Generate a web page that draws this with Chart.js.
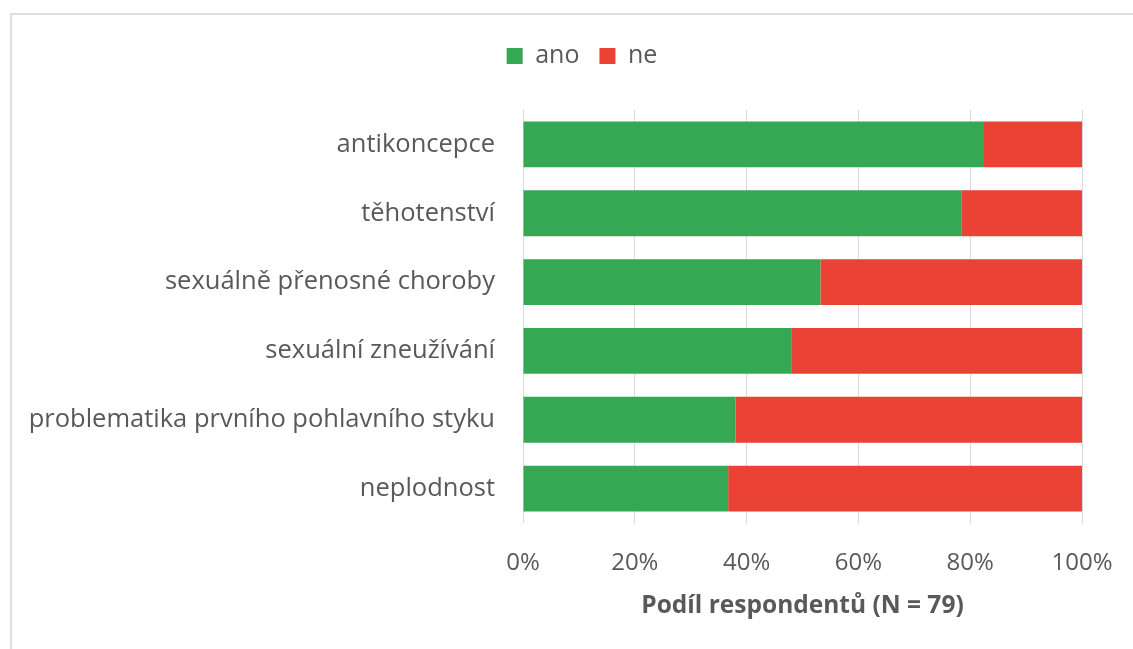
<!DOCTYPE html>
<html>
<head>
<meta charset="utf-8">
<script src="https://cdn.jsdelivr.net/npm/chart.js@4/dist/chart.umd.min.js"></script>
<style>
  html, body { margin: 0; padding: 0; background: #ffffff; }
  #frame { position: absolute; left: 10px; top: 13px; width: 1200px; height: 700px;
           border-left: 2px solid #dedede; border-top: 2px solid #dedede; }
  #wrap { position: absolute; left: 0; top: 0; width: 1133px; height: 649px; }
</style>
</head>
<body>
<div id="frame"></div>
<div id="wrap"><canvas id="c" width="1133" height="649"></canvas></div>
<script>
const categories = [
  'antikoncepce',
  'těhotenství',
  'sexuálně přenosné choroby',
  'sexuální zneužívání',
  'problematika prvního pohlavního styku',
  'neplodnost'
];
const anoValues = [82.3, 78.5, 53.2, 48.1, 38.0, 36.7];
const neValues  = [17.7, 21.5, 46.8, 51.9, 62.0, 63.3];
const xTicks = [0, 20, 40, 60, 80, 100];
const axisTitle = 'Podíl respondentů (N = 79)';

const FONT = '"Open Sans", Lato, sans-serif';
const TEXT = '#595959';

// shift the legend horizontally so it is centred over the plot like the reference
const legendShift = {
  id: 'legendShift',
  afterLayout(chart) {
    const l = chart.legend;
    if (l) { l.left += 15.5; l.right += 15.5; }
  }
};

new Chart(document.getElementById('c'), {
  type: 'bar',
  data: {
    labels: categories,
    datasets: [
      { label: 'ano', data: anoValues, backgroundColor: '#34a853', borderWidth: 0,
        barPercentage: 0.667, categoryPercentage: 1.0 },
      { label: 'ne', data: neValues, backgroundColor: '#ea4335', borderWidth: 0,
        barPercentage: 0.667, categoryPercentage: 1.0 }
    ]
  },
  plugins: [legendShift],
  options: {
    indexAxis: 'y',
    responsive: false,
    animation: false,
    layout: { padding: { left: 0, right: 0, top: 23.5, bottom: 31 } },
    plugins: {
      legend: {
        position: 'top',
        labels: {
          color: TEXT, font: { family: FONT, size: 25 },
          boxWidth: 16, boxHeight: 16, padding: 20
        }
      },
      subtitle: {
        display: true, text: ' ', position: 'top', weight: 500,
        font: { size: 10, lineHeight: 1 }, padding: 10.75
      },
      tooltip: { enabled: false }
    },
    scales: {
      x: {
        stacked: true, min: 0, max: 100,
        afterBuildTicks: (s) => { s.ticks = xTicks.map(v => ({ value: v })); },
        afterFit: (s) => { s.height = 95; s.paddingRight = 51; },
        ticks: { color: TEXT, font: { family: FONT, size: 24 }, padding: 26,
                 maxRotation: 0, callback: (v) => v + '%' },
        grid: { color: '#d9d9d9', lineWidth: 1, drawTicks: false },
        border: { display: false },
        title: { display: true, text: axisTitle, color: TEXT,
                 font: { family: FONT, size: 24.5, weight: 'bold', lineHeight: 1 },
                 padding: { top: 0, bottom: 0 } }
      },
      y: {
        stacked: true,
        afterFit: (s) => { s.width = 523; },
        ticks: { color: TEXT, font: { family: FONT, size: 25.5 }, padding: 28 },
        grid: { display: false, drawTicks: false },
        border: { display: false }
      }
    }
  }
});
</script>
</body>
</html>
